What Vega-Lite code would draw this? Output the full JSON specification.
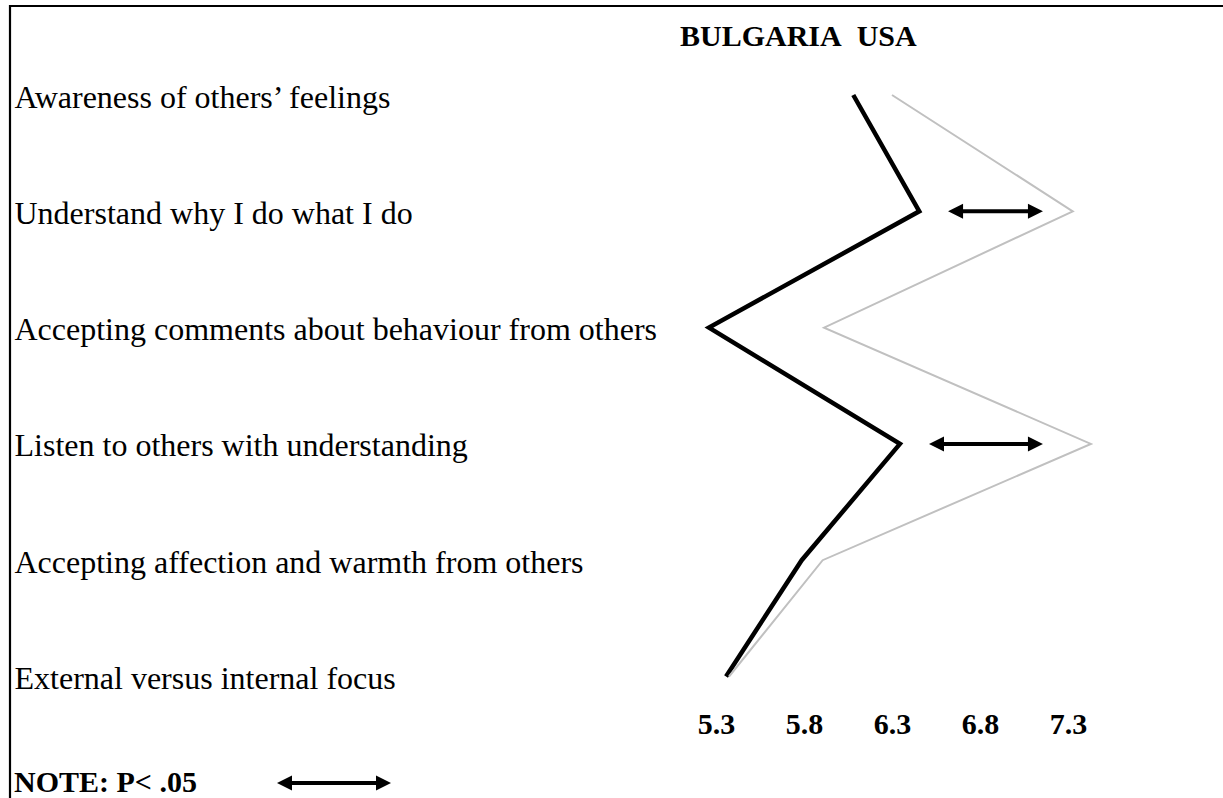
{
  "$schema": "https://vega.github.io/schema/vega-lite/v6.json",
  "autosize": {"type": "none"},
  "padding": {"left": 10, "top": 6, "right": 0, "bottom": 0},
  "width": 1222,
  "height": 800,
  "background": "white",
  "config": {
    "view": {"stroke": "black", "strokeWidth": 2.2},
    "font": "Liberation Serif"
  },
  "title": {
    "text": "BULGARIA\u00a0 USA",
    "anchor": "start",
    "frame": "group",
    "orient": "top",
    "baseline": "alphabetic",
    "offset": 0,
    "dx": 670,
    "dy": 70,
    "font": "Liberation Serif",
    "fontSize": 30,
    "fontWeight": "bold",
    "color": "black"
  },
  "datasets": {
    "scores": [
      {"item": "Awareness of others\u2019 feelings", "country": "BULGARIA", "score": 6.08},
      {"item": "Understand why I do what I do", "country": "BULGARIA", "score": 6.455},
      {"item": "Accepting comments about behaviour from others", "country": "BULGARIA", "score": 5.26},
      {"item": "Listen to others with understanding", "country": "BULGARIA", "score": 6.345},
      {"item": "Accepting affection and warmth from others", "country": "BULGARIA", "score": 5.787},
      {"item": "External versus internal focus", "country": "BULGARIA", "score": 5.357},
      {"item": "Awareness of others\u2019 feelings", "country": "USA", "score": 6.30},
      {"item": "Understand why I do what I do", "country": "USA", "score": 7.327},
      {"item": "Accepting comments about behaviour from others", "country": "USA", "score": 5.914},
      {"item": "Listen to others with understanding", "country": "USA", "score": 7.43},
      {"item": "Accepting affection and warmth from others", "country": "USA", "score": 5.906},
      {"item": "External versus internal focus", "country": "USA", "score": 5.374}
    ],
    "arrows": [
      {"item": "Understand why I do what I do", "lo": 6.661, "hi": 7.115, "note": "NOTE: P< .05"},
      {"item": "Listen to others with understanding", "lo": 6.553, "hi": 7.115, "note": "NOTE: P< .05"}
    ]
  },
  "layer": [
    {
      "data": {"name": "scores"},
      "mark": {"type": "line", "strokeJoin": "miter", "strokeCap": "butt"},
      "encoding": {
        "y": {
          "field": "item", "type": "ordinal", "sort": null,
          "scale": {"type": "point", "padding": 0, "range": [89, 670.5],
            "domain": ["Awareness of others\u2019 feelings", "Understand why I do what I do", "Accepting comments about behaviour from others", "Listen to others with understanding", "Accepting affection and warmth from others", "External versus internal focus"]},
          "axis": {
            "title": null, "orient": "left", "domain": false, "ticks": false, "tickSize": 0,
            "labelAlign": "left", "labelBaseline": "middle", "labelPadding": -4, "labelOffset": 2,
            "labelFont": "Liberation Serif", "labelFontSize": 32, "labelColor": "black", "labelLimit": 0
          }
        },
        "x": {
          "field": "score", "type": "quantitative",
          "scale": {"domain": [5.3, 7.3], "range": [706, 1058], "zero": false, "nice": false},
          "axis": {
            "title": null, "orient": "bottom", "domain": false, "ticks": false, "tickSize": 0, "grid": false,
            "values": [5.3, 5.8, 6.3, 6.8, 7.3], "format": ".1f",
            "labelFlush": false, "labelOverlap": false,
            "labelBaseline": "alphabetic", "labelPadding": -73,
            "labelFont": "Liberation Serif", "labelFontSize": 30, "labelFontWeight": "bold", "labelColor": "black"
          }
        },
        "color": {
          "field": "country", "type": "nominal",
          "scale": {"domain": ["BULGARIA", "USA"], "range": ["black", "#c0c0c0"]},
          "legend": null
        },
        "strokeWidth": {
          "field": "country", "type": "nominal",
          "scale": {"domain": ["BULGARIA", "USA"], "range": [4.5, 2]},
          "legend": null
        },
        "order": {"value": null}
      }
    },
    {
      "data": {"name": "arrows"},
      "mark": {"type": "rule", "strokeWidth": 4, "color": "black"},
      "encoding": {
        "y": {"field": "item", "type": "ordinal", "sort": null},
        "x": {"field": "lo", "type": "quantitative"},
        "x2": {"field": "hi"}
      }
    },
    {
      "data": {"name": "arrows"},
      "transform": [{"fold": ["lo", "hi"], "as": ["end", "value"]}],
      "mark": {"type": "point", "filled": true, "opacity": 1, "size": 225, "strokeWidth": 0},
      "encoding": {
        "y": {"field": "item", "type": "ordinal", "sort": null},
        "x": {"field": "value", "type": "quantitative"},
        "shape": {
          "field": "end", "type": "nominal",
          "scale": {"domain": ["lo", "hi"], "range": ["M-1,0L1,-1L1,1Z", "M1,0L-1,-1L-1,1Z"]},
          "legend": null
        },
        "color": {
          "field": "note", "type": "nominal",
          "scale": {"range": ["black"]},
          "legend": {
            "title": null,
            "orient": "none",
            "legendX": 4,
            "legendY": 720,
            "padding": 0,
            "symbolType": "M-1,0L-0.737,-0.132L-0.737,-0.035L0.737,-0.035L0.737,-0.132L1,0L0.737,0.132L0.737,0.035L-0.737,0.035L-0.737,0.132Z",
            "symbolSize": 12996,
            "symbolFillColor": "black",
            "symbolStrokeWidth": 0,
            "symbolOpacity": 1,
            "symbolOffset": 263,
            "labelOffset": -377,
            "labelFont": "Liberation Serif",
            "labelFontSize": 30,
            "labelFontWeight": "bold",
            "labelColor": "black",
            "labelLimit": 0,
            "labelBaseline": "middle"
          }
        }
      }
    }
  ],
  "resolve": {"scale": {"color": "independent", "shape": "independent"}}
}
